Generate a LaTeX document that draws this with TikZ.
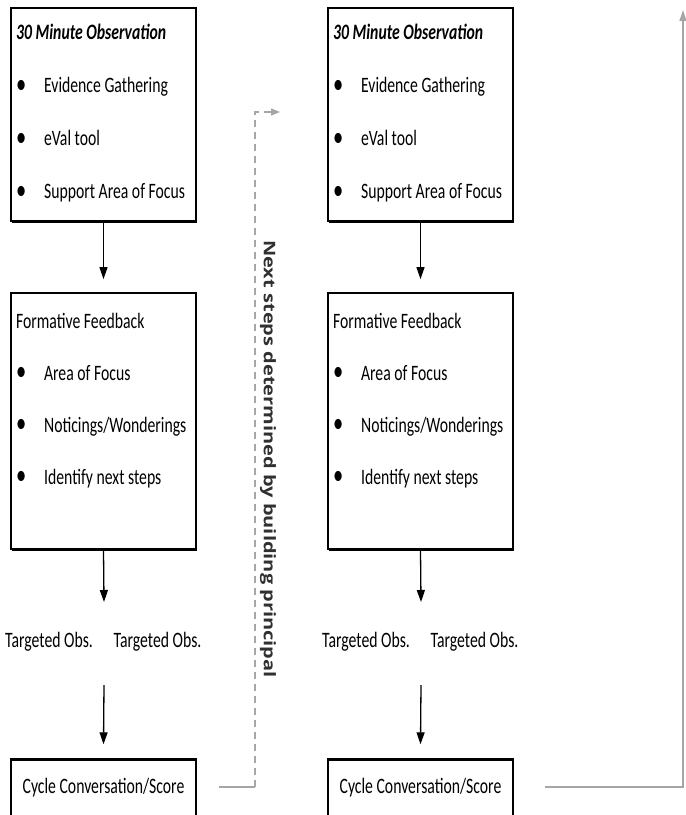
\documentclass[tikz,border=0pt]{standalone}
\usepackage{fontspec}
\setmainfont{Carlito}
\newfontfamily\boxfont{Carlito}[FakeStretch=0.715]
\newfontfamily\notefont{Open Sans}[FakeStretch=1.25]
\usetikzlibrary{arrows.meta, positioning, calc, shadows}
\definecolor{linkgray}{HTML}{A6A6A6}
\definecolor{notegray}{HTML}{303030}

\newcommand{\bul}{\makebox[28pt][l]{\raisebox{-0.5pt}{\scalebox{1.3}{\textbullet}}}}

\begin{document}
\begin{tikzpicture}[x=1pt, y=-1pt,
      box/.style={rectangle, draw=black, fill=white, line width=2.2pt, minimum width=185pt, inner sep=0pt,
        drop shadow={shadow xshift=0.6pt, shadow yshift=-1.8pt, fill=black, opacity=1}},
      txt/.style={inner sep=0pt, font={\fontsize{22}{26}\boxfont}},
      arr/.style={-{Triangle[length=12pt, width=8pt]}, line width=1.3pt, black},
      link/.style={line width=1.4pt, linkgray},
      note/.style={rotate=-90, inner sep=0pt, text=notegray, font={\fontsize{16}{18}\notefont\bfseries}}
    ]
      \useasboundingbox (0,0) rectangle (686,815);

      \foreach \c/\dx in {L/0, R/317} {
        % boxes
        \node[box, minimum height=213pt] (obs\c) at (103.5+\dx, 114.5) {};
        \node[box, minimum height=256pt, below=70pt of obs\c] (ff\c) {};
        \node[box, minimum height=57pt, txt, line width=2.2pt, below=208pt of ff\c] (cyc\c) {Cycle Conversation/Score};

        % box texts
        \node[txt, anchor=base west, font={\fontsize{22}{26}\boxfont\bfseries\itshape}]
          (obs\c-0) at ([xshift=6pt, yshift=-33pt]obs\c.north west) {30 Minute Observation};
        \foreach \t [count=\i] in {Evidence Gathering, eVal tool, Support Area of Focus} {
          \node[txt, anchor=base west] (obs\c-\i) at ([yshift=-53*\i pt]obs\c-0.base west) {\bul\t};
        }
        \node[txt, anchor=base west] (ff\c-0) at ([xshift=6pt, yshift=-36pt]ff\c.north west) {Formative Feedback};
        \foreach \t [count=\i] in {Area of Focus, Noticings/Wonderings, Identify next steps} {
          \node[txt, anchor=base west] (ff\c-\i) at ([yshift=-52*\i pt]ff\c-0.base west) {\bul\t};
        }

        % targeted observations
        \coordinate (mid\c) at (104+\dx, 643);
        \node[txt, anchor=base] (tgt\c1) at (49+\dx, 647) {Targeted Obs.};
        \node[txt, anchor=base] (tgt\c2) at (157.5+\dx, 647) {Targeted Obs.};

        % arrows
        \draw[arr] (obs\c.south) -- ([yshift=13pt]ff\c.north);
        \draw[arr] (ff\c.south) -- ([yshift=41pt]mid\c);
        \draw[arr] ([yshift=-42pt]mid\c) -- ([yshift=14pt]cyc\c.north);
      }

      % links to the next cycle
      \coordinate (nextR) at (280, 112);
      \coordinate (topR) at (683, 10);
      \coordinate (bendL) at (255, 787);
      \draw[link] ([xshift=22pt]cycL.east |- bendL) -- (bendL);
      \draw[link, dash pattern=on 7pt off 5pt, -{Triangle[length=9pt, width=7pt]}]
        (bendL) -- (bendL |- nextR) -- (nextR);
      \node[note] (nextlbl) at (268, 459) {Next steps determined by building principal};
      \draw[link, -{Triangle[length=11pt, width=7pt]}]
        ([xshift=31pt]cycR.east |- bendL) -| (topR);
    \end{tikzpicture}
\end{document}
